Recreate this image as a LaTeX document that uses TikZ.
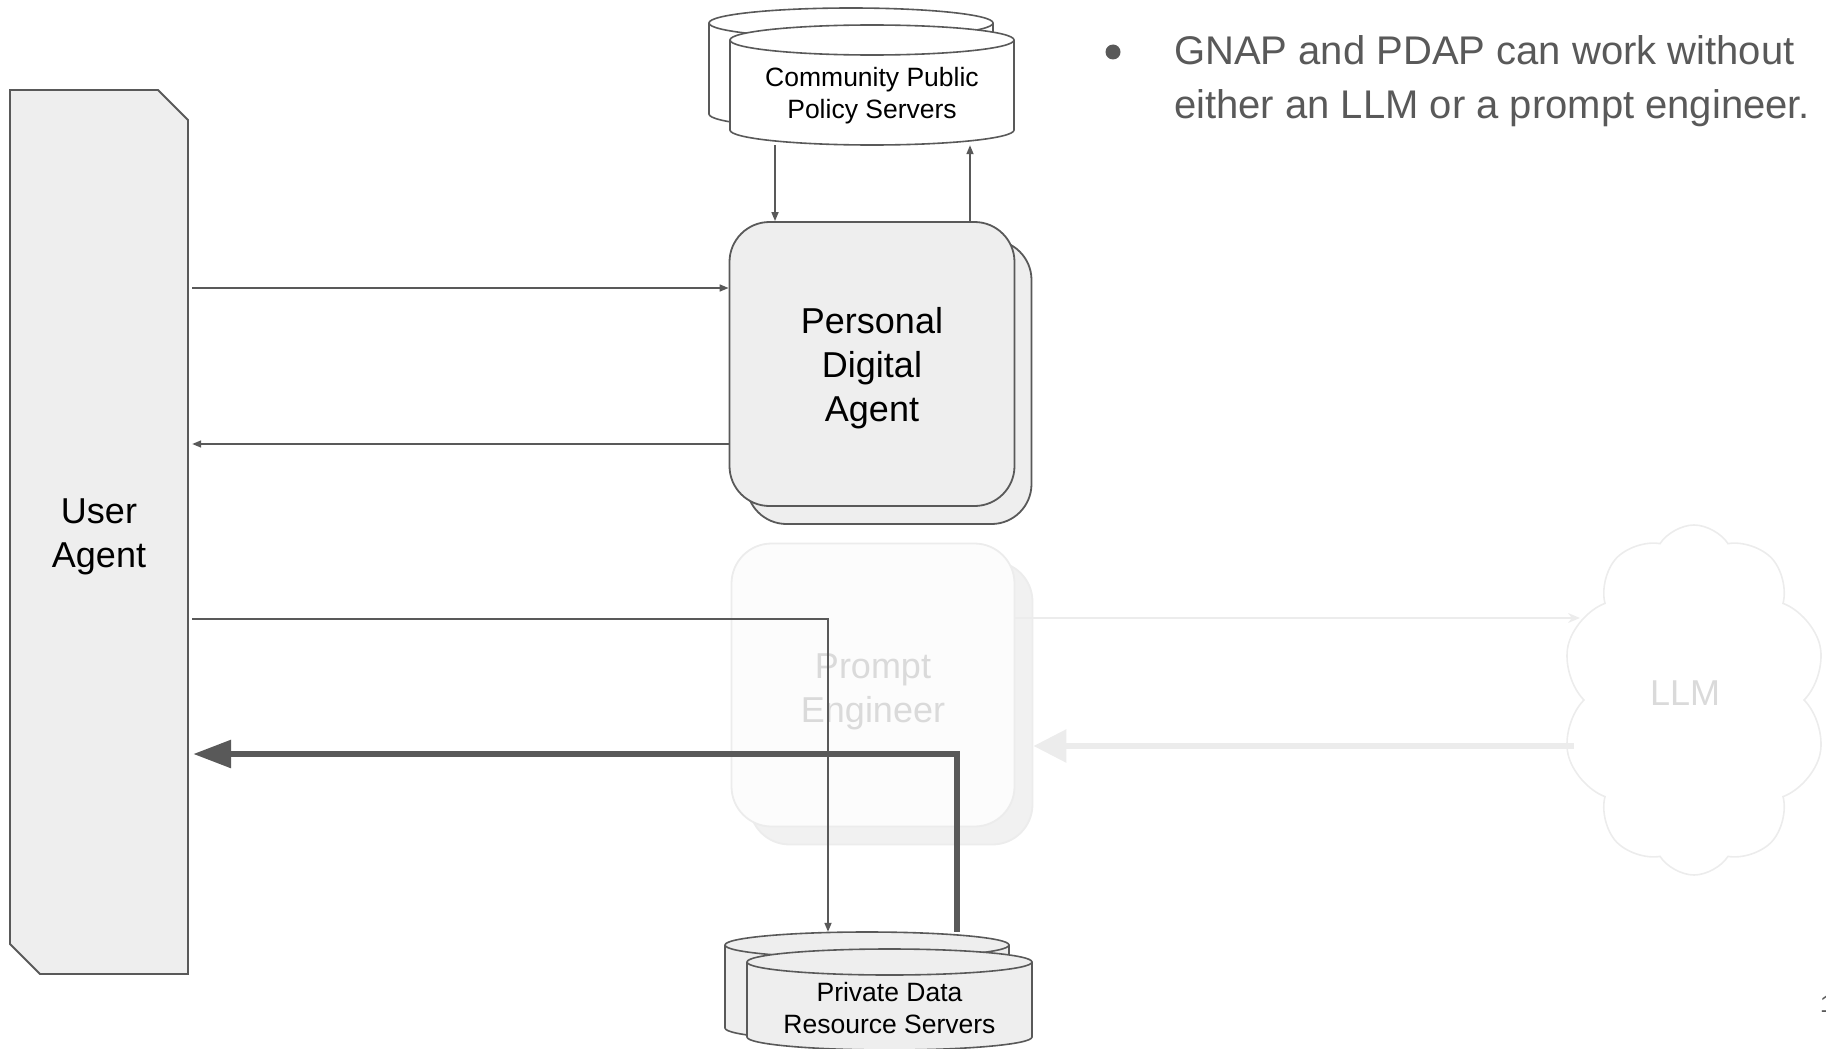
\documentclass[tikz,border=0pt]{standalone}
\usepackage{fontspec}
\setmainfont{Liberation Sans}
\usetikzlibrary{arrows.meta,shapes.symbols}

\definecolor{ink}{HTML}{595959}
\definecolor{panel}{HTML}{EEEEEE}
\definecolor{ghostline}{HTML}{ECECEC}
\definecolor{ghostfill}{HTML}{FCFCFC}
\definecolor{ghostback}{HTML}{F1F1F1}
\definecolor{ghosttext}{HTML}{DADADA}

% cylinder outline: centre x, top-ellipse y, bottom-ellipse y, x radius, y radius, fill
\newcommand\cylbody[6]{%
  \path[draw=ink, line width=1.6pt, fill=#6]
    (#1-#4,#2) -- (#1-#4,#3)
    arc[start angle=180, end angle=0, x radius=#4, y radius=#5]
    -- (#1+#4,#2)
    arc[start angle=0, end angle=-180, x radius=#4, y radius=#5] -- cycle;
  \draw[ink, line width=1.6pt] (#1-#4,#2)
    arc[start angle=180, end angle=0, x radius=#4, y radius=#5];
}

\begin{document}
\begin{tikzpicture}[x=1pt, y=-1pt,
  bigtext/.style={font=\fontsize{36}{44}\selectfont, align=center, inner sep=0pt},
  smalltext/.style={font=\fontsize{26.5}{32}\selectfont, align=center, inner sep=0pt},
  notetext/.style={font=\fontsize{40}{53}\selectfont, text=ink, anchor=base west, inner sep=0pt},
  agentbox/.style={draw=ink, line width=1.8pt, fill=panel, rounded corners=40pt,
    minimum width=285pt, minimum height=284pt, inner sep=0pt},
  ghostbox/.style={draw=ghostline, line width=1.8pt, fill=ghostfill, rounded corners=40pt,
    minimum width=283pt, minimum height=283pt, inner sep=0pt},
  area/.style={inner sep=0pt, draw=none},
  thinarrow/.style={draw=ink, line width=1.6pt, -{Triangle[length=9pt, width=7pt]}},
  thickarrow/.style={draw=ink, line width=6pt, -{Triangle[length=38pt, width=27pt]}},
  ghostthin/.style={draw=ghostline, line width=1.8pt, -{Stealth[length=12pt, width=10pt]}},
  ghostthick/.style={draw=ghostline, line width=6pt, -{Triangle[length=33pt, width=32pt]}},
]
\useasboundingbox (0,0) rectangle (1826,1049);

% ---- User Agent (chamfered bar) ----
\draw[draw=ink, line width=1.8pt, fill=panel]
  (10,90) -- (158,90) -- (188,120) -- (188,974) -- (40,974) -- (10,944) -- cycle;
\node[bigtext, minimum width=178pt, minimum height=884pt] (ua) at (99,536.5) {User\\Agent};

% ---- Community Public Policy Servers ----
\cylbody{851}{23}{114}{142}{15}{white}
\cylbody{872}{40}{130}{142}{15}{white}
\node[area, minimum width=284pt, minimum height=120pt] (cpps) at (872,85) {};
\node[smalltext] (cppsText) at (872,95.5) {Community Public\\Policy Servers};

% ---- Personal Digital Agent ----
\node[agentbox] (pdaback) at (889,382) {};
\node[agentbox] (pda) at (872,364) {};
\node[bigtext] (pdaText) at (872,368.5) {Personal\\Digital\\Agent};

% ---- Prompt Engineer (faded) ----
\node[ghostbox, fill=ghostback] (peback) at (891,703) {};
\node[ghostbox] (pe) at (873,685) {};
\node[bigtext, text=ghosttext] (peText) at (873,691.5) {Prompt\\Engineer};

% ---- LLM cloud (faded) ----
\node[cloud, cloud puffs=10, cloud puff arc=115, cloud ignores aspect,
      minimum width=265pt, minimum height=350pt, draw=ghostline, line width=1.6pt,
      inner sep=0pt] (llm) at (1694,700) {};
\node[bigtext, text=ghosttext] (llmText) at (1685,693) {LLM};
\coordinate (llmIn) at (1580,618);
\coordinate (llmOut) at (1574,746);

% ---- Private Data Resource Servers ----
\cylbody{867}{945}{1028}{142}{13}{panel}
\cylbody{889.5}{962}{1037}{142.5}{13}{panel}
\node[area, minimum width=307pt, minimum height=114pt] (pdrs) at (878.5,989) {};
\node[smalltext] (pdrsText) at (889.5,1008.5) {Private Data\\Resource Servers};

% ---- connectors ----
\draw[thinarrow] (cpps.south -| 775,0) -- (pda.north -| 775,0);
\draw[thinarrow] (pda.north -| 970,0) -- (cpps.south -| 970,0);
\draw[thinarrow, shorten <=4pt] (ua.east |- 0,288) -- (pda.west |- 0,288);
\draw[thinarrow, shorten >=4pt] (pda.west |- 0,444) -- (ua.east |- 0,444);
\draw[thinarrow, shorten <=4pt] (ua.east |- 0,619) -| (pdrs.north -| 828,0);
\draw[thickarrow, shorten >=5pt] (pdrs.north -| 957,0) |- (ua.east |- 0,754);

\draw[ghostthin] (pe.east |- 0,618) -- (llmIn);
\draw[ghostthick] (llmOut) -- (peback.east |- 0,746);

% ---- note ----
\node[circle, fill=ink, minimum size=15pt, inner sep=0pt] (dot) at (1113,52) {};
\node[notetext] (noteA) at (1174,65) {GNAP and PDAP can work without};
\node[notetext] (noteB) at (1174,118) {either an LLM or a prompt engineer.};

% ---- slide number at the edge ----
\begin{scope}
  \clip (0,0) rectangle (1826,1049);
  \node[anchor=base west, inner sep=0pt, font=\fontsize{24}{28}\selectfont, text=ink] (pageno) at (1820,1012) {1};
\end{scope}
\end{tikzpicture}
\end{document}
